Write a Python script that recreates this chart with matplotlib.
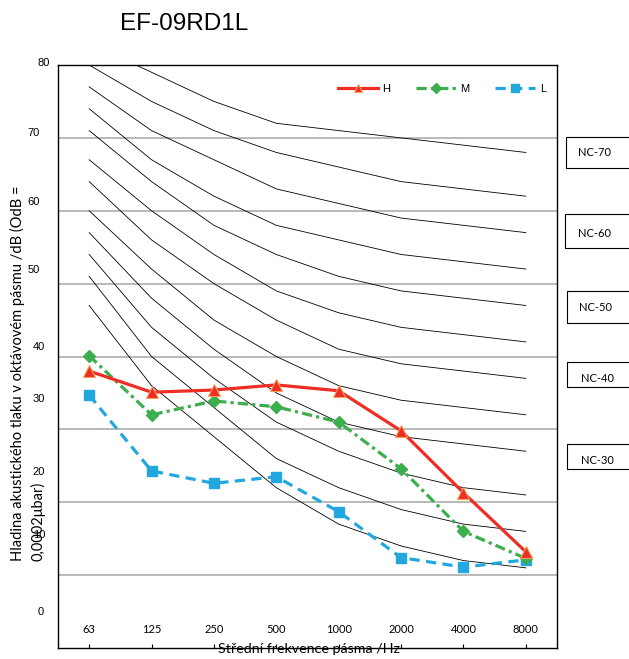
import matplotlib
matplotlib.use("Agg")
import matplotlib.pyplot as plt
from matplotlib.patches import Rectangle

# ---- data -------------------------------------------------------------
bands = ["63", "125", "250", "500", "1000", "2000", "4000", "8000"]

level_H = [38.0, 35.1, 35.4, 36.1, 35.3, 29.8, 21.3, 13.2]
level_M = [40.1, 32.0, 33.9, 33.1, 31.0, 24.6, 16.0, 12.3]
level_L = [34.7, 24.3, 22.6, 23.5, 18.7, 12.4, 11.1, 12.1]

# NC reference curves (dB per octave band)
nc_curves = {
    15: [47, 36, 29, 22, 17, 14, 12, 11],
    20: [51, 40, 33, 26, 22, 19, 17, 16],
    25: [54, 44, 37, 31, 27, 24, 22, 21],
    30: [57, 48, 41, 35, 31, 29, 28, 27],
    35: [60, 52, 45, 40, 36, 34, 33, 32],
    40: [64, 56, 50, 45, 41, 39, 38, 37],
    45: [67, 60, 54, 49, 46, 44, 43, 42],
    50: [71, 64, 58, 54, 51, 49, 48, 47],
    55: [74, 67, 62, 58, 56, 54, 53, 52],
    60: [77, 71, 67, 63, 61, 59, 58, 57],
    65: [80, 75, 71, 68, 66, 64, 63, 62],
    70: [83, 79, 75, 72, 71, 70, 69, 68],
}

y_tick_values = ["80", "70", "60", "50", "40", "30", "20", "10", "0"]
nc_labels = ["NC-70", "NC-60", "NC-50", "NC-40", "NC-30"]
ylabel_lines = ["Hladina akustického tlaku v oktávovém pásmu /dB (OdB =",
                "0,0002μbar)"]

# ---- figure -----------------------------------------------------------
W, H = 629, 659
fig = plt.figure(figsize=(W / 100, H / 100), dpi=100)


def fx(px):
    return px / W


def fy(py):
    return 1 - py / H


ARIAL = ["Liberation Sans", "DejaVu Sans"]
HUMAN = ["Lato", "DejaVu Sans"]

ax = fig.add_axes([fx(58), fy(648), 499 / W, 583 / H])
ax.set_xlim(-0.5, len(bands) - 0.5)
ax.set_ylim(0, 80)

ax.set_yticks(range(10, 80, 10))
ax.yaxis.grid(True, color="#a6a6a6", lw=1.1)
ax.set_axisbelow(True)
ax.tick_params(axis="y", length=0, labelleft=False)
ax.set_xticks(range(len(bands)))
ax.tick_params(axis="x", direction="in", length=3, width=0.8,
               labelbottom=False, color="black")
for sp in ax.spines.values():
    sp.set_color("black")
    sp.set_linewidth(1.0)

x = list(range(len(bands)))

# NC curves
for lvl, vals in nc_curves.items():
    ax.plot(x, vals, color="black", lw=0.6, zorder=2, clip_on=True)

# measured series
ax.plot(x, level_H, color="#ee2e24", lw=2.3, marker="^", markersize=8,
        markerfacecolor="#ee2e24", markeredgecolor="#f5a05a",
        markeredgewidth=0.8, label="H", zorder=5)
ax.plot(x, level_M, color="#3cae4e", lw=2.3, marker="D", markersize=6.5,
        markerfacecolor="#3cae4e", markeredgecolor="#3cae4e",
        dashes=(3.2, 1.3, 1.0, 1.3), label="M", zorder=4)
ax.plot(x, level_L, color="#22a7df", lw=2.3, marker="s", markersize=7,
        markerfacecolor="#22a7df", markeredgecolor="#22a7df",
        dashes=(3.2, 2.0), label="L", zorder=3)

# category labels inside the plot area
for i, b in enumerate(bands):
    ax.text(i, 0.031, b, transform=ax.get_xaxis_transform(),
            ha="center", va="center", fontsize=8, family=HUMAN)

# value labels on the left
ylab_pos = [(43.5, 63), (34, 133), (34, 202), (34, 270), (39, 347),
            (39, 399), (39, 472), (39, 535), (40.5, 612)]
for t, (px, py) in zip(y_tick_values, ylab_pos):
    fig.text(fx(px), fy(py), t, ha="center", va="center",
             fontsize=8, family=ARIAL)

# legend
ax.legend(loc="center", bbox_to_anchor=(fx(442), fy(89)),
          bbox_transform=fig.transFigure, ncol=3, frameon=False,
          handlelength=3.6, handletextpad=0.4,
          columnspacing=2.3, borderpad=0, markerscale=0.75,
          prop={"family": ARIAL, "size": 8})

# title
fig.text(fx(184), fy(24), "EF-09RD1L", ha="center", va="center",
         fontsize=17.5, family=ARIAL)

# axis titles
fig.text(fx(309), fy(649), "Střední frekvence pásma /Hz",
         ha="center", va="center", fontsize=10.3, family=HUMAN)
for line, cx in zip(ylabel_lines, (17, 38)):
    fig.text(fx(cx), fy(561), line, rotation=90, rotation_mode="anchor",
             ha="left", va="center", fontsize=10.5, family=HUMAN)

# NC boxes on the right
nc_boxes = [(566, 137, 168, 578, 153), (565, 214, 248, 578, 233),
            (567, 291, 323, 579, 308), (567, 362, 387, 581, 378),
            (567, 444, 469, 581, 460)]
for lab, (bx, top, bot, tx, ty) in zip(nc_labels, nc_boxes):
    fig.patches.append(Rectangle((fx(bx), fy(bot)), fx(100), (bot - top) / H,
                                 transform=fig.transFigure, fill=False,
                                 edgecolor="black", lw=0.8))
    fig.text(fx(tx), fy(ty), lab, ha="left", va="center",
             fontsize=8, family=HUMAN)

fig.savefig("out.png", dpi=100)
